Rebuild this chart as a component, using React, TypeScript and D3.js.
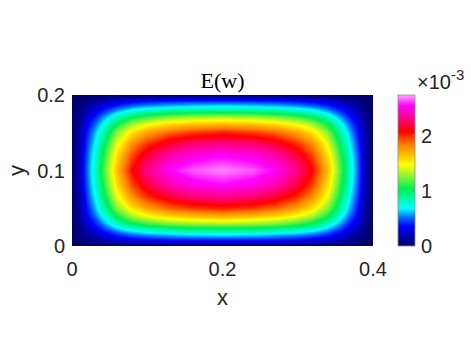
import React, { useEffect, useRef } from "react";
import * as d3 from "d3";

// grid nodes of one quarter of the plate (field is symmetric about x=0.2 and y=0.1)
const xNodes = [0, 0.01, 0.02, 0.03, 0.04, 0.06, 0.08, 0.1, 0.13, 0.16, 0.2];
const yNodes = [0, 0.005, 0.01, 0.015, 0.02, 0.03, 0.04, 0.05, 0.065, 0.08, 0.1];

// E(w) values in units of 1e-3, rows follow yNodes, columns follow xNodes
const wQuarter = [
  [0, 0, 0, 0, 0, 0, 0, 0, 0, 0, 0],
  [0, 0.02, 0.05, 0.08, 0.11, 0.17, 0.21, 0.23, 0.25, 0.26, 0.27],
  [0, 0.03, 0.09, 0.14, 0.19, 0.3, 0.37, 0.42, 0.46, 0.48, 0.49],
  [0, 0.05, 0.13, 0.2, 0.27, 0.42, 0.52, 0.58, 0.63, 0.66, 0.68],
  [0, 0.06, 0.17, 0.26, 0.36, 0.55, 0.69, 0.77, 0.84, 0.87, 0.89],
  [0, 0.09, 0.26, 0.39, 0.54, 0.84, 1.04, 1.16, 1.27, 1.32, 1.35],
  [0, 0.12, 0.33, 0.5, 0.69, 1.07, 1.33, 1.49, 1.62, 1.69, 1.73],
  [0, 0.14, 0.38, 0.59, 0.81, 1.26, 1.56, 1.74, 1.9, 1.98, 2.03],
  [0, 0.16, 0.44, 0.67, 0.93, 1.44, 1.79, 2.0, 2.18, 2.28, 2.32],
  [0, 0.18, 0.48, 0.74, 1.02, 1.57, 1.95, 2.18, 2.39, 2.49, 2.54],
  [0, 0.19, 0.51, 0.78, 1.08, 1.67, 2.08, 2.32, 2.54, 2.65, 2.7],
];

const xTicks = [0, 0.2, 0.4];
const yTicks = [0, 0.1, 0.2];
const cTicks = [0, 1, 2];
const cMax = 2.74;

// colormap (fraction of colour range -> colour)
const cmapStops = [0, 0.13, 0.19, 0.25, 0.38, 0.47, 0.54, 0.67, 0.76, 0.84, 0.93, 1];
const cmapColors = [
  "rgb(0,0,100)",
  "rgb(0,0,255)",
  "rgb(0,110,255)",
  "rgb(0,255,255)",
  "rgb(0,240,80)",
  "rgb(150,245,50)",
  "rgb(255,255,0)",
  "rgb(255,128,0)",
  "rgb(255,0,0)",
  "rgb(255,0,128)",
  "rgb(255,0,255)",
  "rgb(255,170,255)",
];

const W = 471;
const H = 354;
const plot = { left: 72, right: 373, top: 95, bottom: 246 };
const cbar = { left: 398, right: 415 };
const tickFont = "Liberation Sans, Arial, Helvetica, sans-serif";
const ink = "#262626";

// mirror the quarter to the full plate
const xs = xNodes.concat(xNodes.slice(0, -1).reverse().map((v) => +(0.4 - v).toFixed(4)));
const ys = yNodes.concat(yNodes.slice(0, -1).reverse().map((v) => +(0.2 - v).toFixed(4)));
const mirrorRow = (r: number[]) => r.concat(r.slice(0, -1).reverse());
const wFull = wQuarter.concat(wQuarter.slice(0, -1).reverse()).map(mirrorRow);

function sample(xv: number, yv: number) {
  const i = Math.max(0, Math.min(xs.length - 2, d3.bisectRight(xs, xv) - 1));
  const j = Math.max(0, Math.min(ys.length - 2, d3.bisectRight(ys, yv) - 1));
  const tx = (xv - xs[i]) / (xs[i + 1] - xs[i]);
  const ty = (yv - ys[j]) / (ys[j + 1] - ys[j]);
  const a = wFull[j][i] * (1 - tx) + wFull[j][i + 1] * tx;
  const b = wFull[j + 1][i] * (1 - tx) + wFull[j + 1][i + 1] * tx;
  return a * (1 - ty) + b * ty;
}

export default function App() {
  const ref = useRef<SVGGElement>(null);

  const x = d3.scaleLinear().domain([0, 0.4]).range([plot.left, plot.right]);
  const y = d3.scaleLinear().domain([0, 0.2]).range([plot.bottom, plot.top]);
  const yc = d3.scaleLinear().domain([0, cMax]).range([plot.bottom, plot.top]);
  const color = d3
    .scaleLinear<string>()
    .domain(cmapStops.map((s) => s * cMax))
    .range(cmapColors)
    .interpolate(d3.interpolateRgb)
    .clamp(true);

  useEffect(() => {
    const g = d3.select(ref.current);
    g.selectAll("*").remove();

    // heat map, one rect per screen pixel
    const cells: { px: number; py: number; v: number }[] = [];
    for (let py = plot.top; py < plot.bottom; py++) {
      for (let px = plot.left; px < plot.right; px++) {
        cells.push({ px, py, v: sample(x.invert(px + 0.5), y.invert(py + 0.5)) });
      }
    }
    g.append("g")
      .attr("shape-rendering", "crispEdges")
      .selectAll("rect")
      .data(cells)
      .enter()
      .append("rect")
      .attr("x", (d) => d.px)
      .attr("y", (d) => d.py)
      .attr("width", 1.05)
      .attr("height", 1.05)
      .attr("fill", (d) => color(d.v));

    // colorbar
    const bars = d3.range(plot.top, plot.bottom);
    g.append("g")
      .attr("shape-rendering", "crispEdges")
      .selectAll("rect")
      .data(bars)
      .enter()
      .append("rect")
      .attr("x", cbar.left)
      .attr("y", (d) => d)
      .attr("width", cbar.right - cbar.left)
      .attr("height", 1.05)
      .attr("fill", (d) => color(yc.invert(d + 0.5)));
  }, []);

  return (
    <svg
      width={W}
      height={H}
      style={{ position: "absolute", left: 0, top: 0, background: "#fff" }}
    >
      <g ref={ref} />
      {/* colorbar box and ticks */}
      <rect
        x={cbar.left}
        y={plot.top}
        width={cbar.right - cbar.left}
        height={plot.bottom - plot.top}
        fill="none"
        stroke="#8c8c8c"
        strokeWidth={0.8}
      />
      {cTicks.map((t) => (
        <line
          key={"ct" + t}
          x1={cbar.right - 3}
          x2={cbar.right}
          y1={yc(t)}
          y2={yc(t)}
          stroke="#8c8c8c"
          strokeWidth={0.8}
        />
      ))}
      {cTicks.map((t) => (
        <text
          key={"cl" + t}
          x={cbar.right + 6}
          y={yc(t)}
          dy="0.35em"
          fontFamily={tickFont}
          fontSize={20}
          fill={ink}
        >
          {t}
        </text>
      ))}
      <text x={cbar.right + 2} y={89} fontFamily={tickFont} fontSize={20} fill={ink}>
        ×10
        <tspan fontSize={15} dy={-9}>
          -3
        </tspan>
      </text>

      {/* axes tick labels */}
      {xTicks.map((t) => (
        <text
          key={"xt" + t}
          x={x(t)}
          y={plot.bottom + 30}
          textAnchor="middle"
          fontFamily={tickFont}
          fontSize={20}
          fill={ink}
        >
          {t}
        </text>
      ))}
      {yTicks.map((t) => (
        <text
          key={"yt" + t}
          x={plot.left - 7}
          y={y(t)}
          dy="0.35em"
          textAnchor="end"
          fontFamily={tickFont}
          fontSize={20}
          fill={ink}
        >
          {t}
        </text>
      ))}
      <text
        x={(plot.left + plot.right) / 2}
        y={305}
        textAnchor="middle"
        fontFamily={tickFont}
        fontSize={22}
        fill={ink}
      >
        x
      </text>
      <text
        transform={`translate(24, ${(plot.top + plot.bottom) / 2}) rotate(-90)`}
        textAnchor="middle"
        fontFamily={tickFont}
        fontSize={22}
        fill={ink}
      >
        y
      </text>
      <text
        x={(plot.left + plot.right) / 2}
        y={88}
        textAnchor="middle"
        fontFamily="Liberation Serif, DejaVu Serif, serif"
        fontSize={22}
        fill="#000"
      >
        E(w)
      </text>
    </svg>
  );
}
